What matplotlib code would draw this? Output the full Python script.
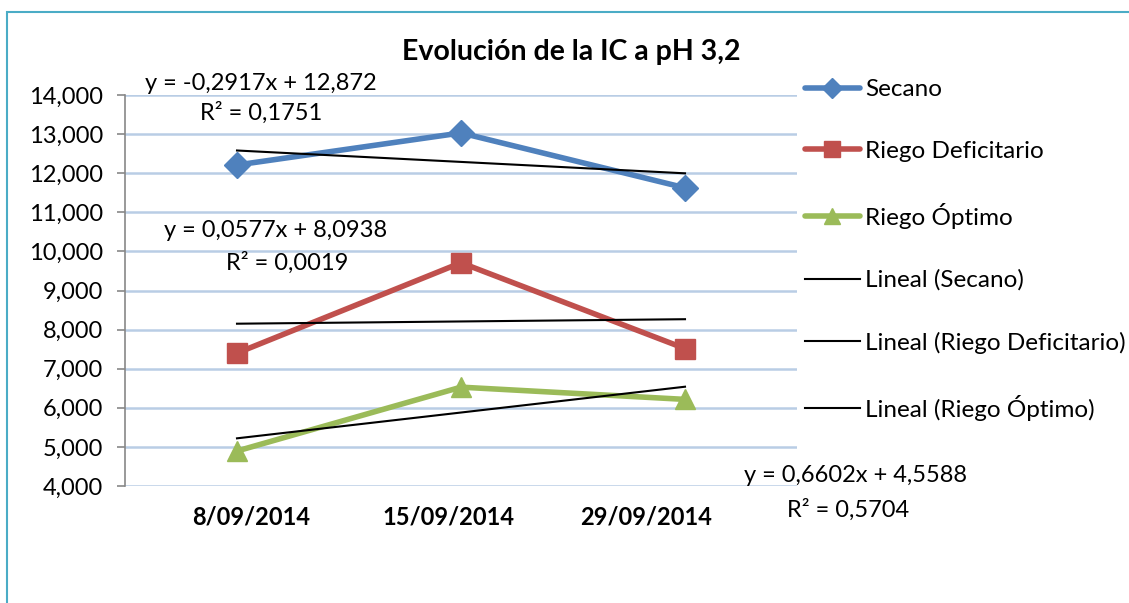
import matplotlib
matplotlib.use("Agg")
import matplotlib.pyplot as plt
import matplotlib.transforms as mtransforms
import numpy as np
from matplotlib.patches import Rectangle

plt.rcParams['font.family'] = ['Lato', 'DejaVu Sans']

categories = ["8/09/2014", "15/09/2014", "29/09/2014"]
secano = [12.21, 13.03, 11.626]
riego_deficitario = [7.40, 9.71, 7.515]
riego_optimo = [4.895, 6.528, 6.215]
series_names = ["Secano", "Riego Deficitario", "Riego Óptimo"]
colors = ["#4F81BD", "#C0504D", "#9BBB59"]
markers = ["D", "s", "^"]
eq_texts = [("y = -0,2917x + 12,872", "R² = 0,1751"),
            ("y = 0,0577x + 8,0938", "R² = 0,0019"),
            ("y = 0,6602x + 4,5588", "R² = 0,5704")]
yticks = [4, 5, 6, 7, 8, 9, 10, 11, 12, 13, 14]

W, H = 1129, 603
FS = 17
fig = plt.figure(figsize=(W / 100, H / 100), dpi=100)
fig.patch.set_facecolor("white")

# outer chart frame
fig.patches.append(Rectangle((7 / W, -0.1), 1.2, 1 - 12 / H + 0.1, transform=fig.transFigure,
                             fill=False, edgecolor="#4BACC6", linewidth=1.5))

ax = fig.add_axes([125 / W, 1 - 486 / H, (797 - 125) / W, (486 - 95) / H])
x = np.arange(len(categories))
data = [secano, riego_deficitario, riego_optimo]
sizes = {"D": 13, "s": 15, "^": 14}
handles = []
for vals, name, c, m in zip(data, series_names, colors, markers):
    h, = ax.plot(x, vals, color=c, linewidth=4.0, marker=m, markersize=sizes[m],
                 markeredgecolor=c, label=name, zorder=3, solid_capstyle="round")
    handles.append(h)

trend_handles = []
for vals, name in zip(data, series_names):
    xx = np.arange(1, len(vals) + 1)
    k, b = np.polyfit(xx, vals, 1)
    h, = ax.plot(x, k * xx + b, color="black", linewidth=1.5, zorder=4,
                 label=f"Lineal ({name})")
    trend_handles.append(h)

ax.set_xlim(-0.5, 2.5)
ax.set_ylim(4, 14)
ax.set_yticks(yticks)
ax.set_yticklabels([f"{v:.3f}".replace(".", ",") for v in yticks], fontsize=FS)
ax.yaxis.grid(True, color="#B9CDE5", linewidth=1.8)
ax.set_axisbelow(True)
ax.set_xticks(x)
ax.set_xticklabels(categories, fontsize=FS, fontweight="bold")
ax.tick_params(axis="x", length=0, pad=14)
ax.tick_params(axis="y", length=6, width=1.2, color="#878787", pad=10)
for s in ["top", "right", "bottom"]:
    ax.spines[s].set_visible(False)
ax.spines["left"].set_color("#878787")
ax.spines["left"].set_linewidth(1.2)

# Excel places the category labels slightly off the data positions
label_shift_px = [14, -13, -39]
for lab, dx in zip(ax.get_xticklabels(), label_shift_px):
    lab.set_transform(lab.get_transform() + mtransforms.ScaledTranslation(dx / 100, 0, fig.dpi_scale_trans))

# equation labels
def px(xp, yp):
    return (xp / W, 1 - yp / H)

eq_pos = [((261, 84), (261, 113)), ((276, 231), (287, 263)), ((855, 476), (848, 510))]
for (eq, r2), (p1, p2) in zip(eq_texts, eq_pos):
    fig.text(*px(*p1), eq, ha="center", va="center", fontsize=FS)
    fig.text(*px(*p2), r2, ha="center", va="center", fontsize=FS)

fig.text(*px(571, 52), "Evolución de la IC a pH 3,2", ha="center", va="center",
         fontsize=20.5, fontweight="bold")

leg = fig.legend(handles + trend_handles, [h.get_label() for h in handles + trend_handles],
                 loc="upper left", bbox_to_anchor=(805 / W, 1 - 79 / H), frameon=False,
                 fontsize=17.5, handlelength=2.26, handletextpad=0.2, labelspacing=1.68,
                 borderaxespad=0, borderpad=0, markerscale=0.8)

fig.savefig("out.png", dpi=100)
